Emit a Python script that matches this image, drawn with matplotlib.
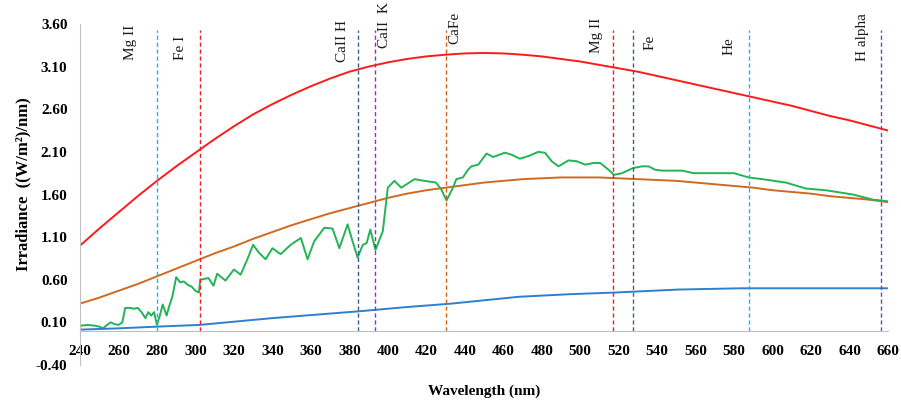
import numpy as np
import matplotlib
matplotlib.use("Agg")
import matplotlib.pyplot as plt

# curves (every 10 nm)
curve_nm = list(range(240, 661, 10))
red_val = [1.00, 1.20, 1.39, 1.58, 1.76, 1.93, 2.09, 2.25, 2.40, 2.54, 2.66, 2.77, 2.87, 2.96, 3.04,
           3.10, 3.15, 3.19, 3.22, 3.24, 3.255, 3.26, 3.255, 3.24, 3.22, 3.19, 3.16, 3.12, 3.08, 3.04,
           2.99, 2.94, 2.89, 2.84, 2.79, 2.74, 2.69, 2.64, 2.58, 2.52, 2.47, 2.41, 2.35]
orange_val = [0.32, 0.39, 0.47, 0.55, 0.64, 0.73, 0.82, 0.91, 0.99, 1.08, 1.16, 1.24, 1.31, 1.38, 1.44,
              1.50, 1.56, 1.61, 1.65, 1.68, 1.71, 1.74, 1.76, 1.78, 1.79, 1.80, 1.80, 1.80, 1.79, 1.78,
              1.77, 1.76, 1.74, 1.72, 1.70, 1.68, 1.65, 1.63, 1.61, 1.58, 1.56, 1.54, 1.51]

blue_nm = [240, 260, 280, 302, 340, 385, 410, 433, 468, 494, 518, 551, 584, 660]
blue_val = [0.015, 0.03, 0.05, 0.07, 0.15, 0.23, 0.28, 0.32, 0.40, 0.43, 0.45, 0.485, 0.50, 0.50]

green_nm = [240, 244, 248, 250, 252, 254, 256, 258, 260, 262, 263.5, 266, 268, 270, 272, 274, 275.5,
            277, 278.5, 280, 281.5, 283, 285, 286.5, 288, 290, 292, 294, 296, 298, 300, 301.8, 302.5,
            306.8, 309.4, 311.3, 315.6, 320, 323.5, 327, 330, 332.9, 336.5, 340, 344.3, 349.5, 354.8,
            358.3, 361.7, 367, 371.3, 374.8, 379.1, 381.7, 384.3, 387, 389, 390.9, 393.6, 397.4, 400,
            403.4, 407, 413.9, 419, 425, 427.8, 430.5, 433.9, 435.6, 439, 441.7, 443.4, 447, 451.3,
            454.8, 460.8, 464, 468.6, 473, 478.2, 481.7, 485.2, 488.7, 493.9, 498.2, 502.6, 507, 510.4,
            514.8, 517.5, 521.7, 527.5, 532.1, 535.6, 539, 542.6, 553, 559, 580, 587.6, 594.7, 606.9,
            617.3, 627.7, 641.7, 652.1, 660]
green_val = [0.06, 0.07, 0.06, 0.05, 0.03, 0.07, 0.10, 0.08, 0.07, 0.10, 0.27, 0.27, 0.26, 0.27, 0.22, 0.15, 0.22,
             0.18, 0.22, 0.07, 0.18, 0.31, 0.18, 0.30, 0.40, 0.63, 0.57, 0.58, 0.54, 0.52, 0.47, 0.45, 0.60,
             0.62, 0.53, 0.67, 0.59, 0.72, 0.66, 0.84, 1.01, 0.92, 0.84, 0.97, 0.90, 1.01, 1.09,
             0.84, 1.05, 1.21, 1.20, 0.97, 1.25, 1.05, 0.86, 1.01, 1.03, 1.19, 0.95, 1.17, 1.68,
             1.76, 1.68, 1.78, 1.76, 1.74, 1.66, 1.53, 1.68, 1.78, 1.80, 1.89, 1.93, 1.95, 2.08,
             2.04, 2.09, 2.07, 2.02, 2.05, 2.10, 2.09, 1.99, 1.93, 2.00, 1.99, 1.95, 1.97, 1.97,
             1.89, 1.83, 1.85, 1.91, 1.93, 1.93, 1.89, 1.88, 1.88, 1.85, 1.85, 1.80, 1.78, 1.74,
             1.67, 1.65, 1.60, 1.54, 1.52]

# spectral lines
line_names = ["Mg II", "Fe I", "CaII H", "CaII  K", "CaFe", "Mg II", "Fe", "He", "H alpha"]
line_nm = [280, 302.2, 384.6, 393.4, 430.3, 517.3, 527.2, 587.6, 656.3]
line_colors = ["#1EB4F0", "#F01E1E", "#3E5C9A", "#7A3CC0", "#D0641E", "#F01E1E", "#3E5C9A", "#1EB4F0", "#7A3CC0"]
# label offsets (nm) and bottom (y) of each rotated label
lab_dx = [-14, -10, -8.4, 5.1, 4.6, -8.6, 9.3, -10.3, -9.3]
lab_y = [3.18, 3.18, 3.15, 3.32, 3.36, 3.26, 3.29, 3.24, 3.17]

serif = ["Liberation Serif", "DejaVu Serif"]

fig = plt.figure(figsize=(9.01, 4.03), dpi=100)
ax = fig.add_axes([80 / 901, 1 - 365 / 403, 808 / 901, 341 / 403])

ax.plot(curve_nm, red_val, color="#FF1A1A", lw=1.4)
ax.plot(curve_nm, orange_val, color="#D2691E", lw=1.4)
ax.plot(green_nm, green_val, color="#22B455", lw=1.4)
ax.plot(blue_nm, blue_val, color="#2E7FD2", lw=1.4)

for nm, c in zip(line_nm, line_colors):
    ax.vlines(nm, 0, 3.53, colors=c, lw=1.0, linestyles=(0, (3, 2)))
for nm, name, dx, yy in zip(line_nm, line_names, lab_dx, lab_y):
    ax.text(nm + dx, yy, name, rotation=90, ha="center", va="bottom",
            family=serif, fontsize=11, color="#1A1A1A")

ax.set_xlim(240, 660)
ax.set_ylim(-0.40, 3.60)
ax.set_xticks(np.arange(240, 661, 20))
ax.set_yticks(np.arange(-0.40, 3.61, 0.50))
ax.set_yticklabels(["%.2f" % v for v in np.arange(-0.40, 3.61, 0.50)])

for s in ["top", "right"]:
    ax.spines[s].set_visible(False)
ax.spines["bottom"].set_position(("data", 0))
ax.spines["left"].set_color("#BFBFBF")
ax.spines["bottom"].set_color("#BFBFBF")
ax.tick_params(length=0)
ax.tick_params(axis="x", pad=10)
ax.tick_params(axis="y", pad=9)
for lab in ax.get_xticklabels() + ax.get_yticklabels():
    lab.set_family(serif)
    lab.set_fontweight("bold")
    lab.set_fontsize(11)

ax.set_xlabel("Wavelength (nm)", family=serif, fontweight="bold", fontsize=11)
ax.xaxis.set_label_coords(0.5, -0.058)
ax.set_ylabel("Irradiance  ((W/m²)/nm)", family=serif, fontweight="bold", fontsize=12)
ax.yaxis.set_label_coords(-0.06, 0.531)

fig.savefig("out.png", dpi=100)
